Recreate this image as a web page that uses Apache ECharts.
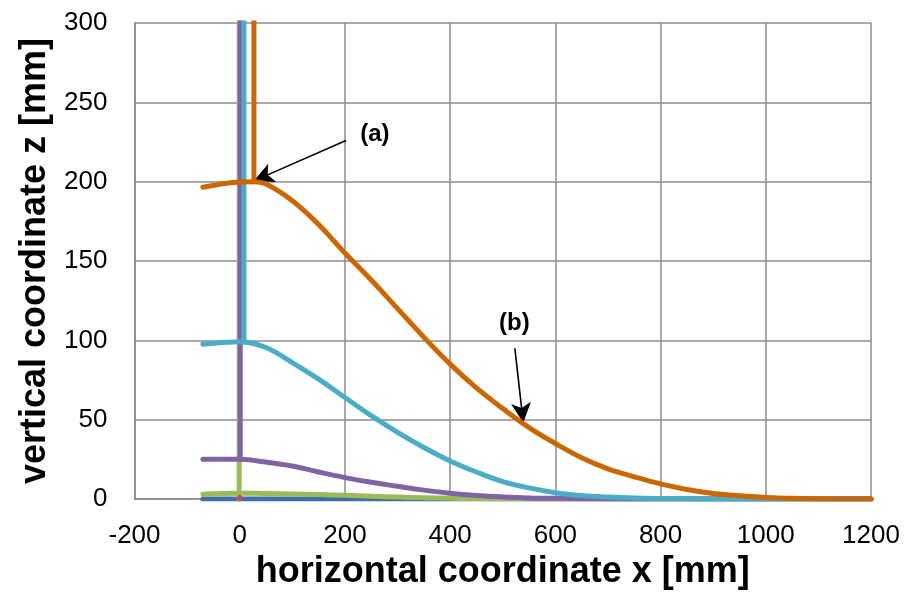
<!DOCTYPE html>
<html>
<head>
<meta charset="utf-8">
<script src="https://cdn.jsdelivr.net/npm/echarts@6/dist/echarts.min.js"></script>
<style>html,body{margin:0;padding:0;background:#fff}#c{width:907px;height:595px}</style>
</head>
<body>
<div id="c"></div>
<script>
// ---- data ----
const xTickValues = [-200, 0, 200, 400, 600, 800, 1000, 1200];
const zTickValues = [0, 50, 100, 150, 200, 250, 300];

const blueX = [-70, 0, 400, 800, 1200];
const blueZ = [0, 0, 0, 0, 0];

const redX = [0, 0];
const redZ = [0, 1];

const greenX = [-70, 0, 50, 100, 150, 200, 250, 300, 350, 400, 450, 500, 600, 700, 800, 1000, 1200];
const greenZ = [3, 3.6, 3.5, 3.2, 2.8, 2.3, 1.7, 1.2, 0.8, 0.5, 0.3, 0.15, 0, 0, 0, 0, 0];
const greenRiseX = [-1, -1];
const greenRiseZ = [0, 330];

const purpleX = [-70, -50, -25, 0, 50, 100, 150, 200, 250, 300, 350, 400, 450, 500, 550, 600, 700, 800, 1000, 1200];
const purpleZ = [25, 25, 25.1, 25, 23.3, 20.8, 17, 13.5, 10.5, 8, 5.6, 3.6, 2.2, 1.3, 0.7, 0.4, 0.1, 0, 0, 0];
const purpleRiseX = [1, 1];
const purpleRiseZ = [25, 330];

const cyanX = [-70, -50, -25, 0, 8, 50, 100, 150, 200, 250, 300, 350, 400, 450, 500, 550, 600, 650, 700, 750, 800, 850, 900, 1000, 1100, 1200];
const cyanZ = [97.6, 98.2, 98.8, 99.1, 99, 95.5, 86, 75.5, 64, 52.5, 42, 32.5, 24, 17, 11, 7, 4, 2.2, 1.2, 0.6, 0.3, 0.1, 0, 0, 0, 0];
const cyanRiseX = [8, 8];
const cyanRiseZ = [99, 330];

const orangeX = [-70, -50, -25, 0, 27, 50, 100, 150, 200, 250, 300, 350, 400, 450, 500, 550, 600, 650, 700, 750, 800, 850, 900, 950, 1000, 1050, 1100, 1150, 1200];
const orangeZ = [196.5, 197.6, 199, 199.8, 200, 198.5, 188, 173, 155, 138, 120, 102, 85, 70, 57, 45, 35, 26, 19, 14, 9.5, 6, 3.5, 2, 1, 0.4, 0.1, 0, 0];
const orangeRiseX = [27, 27];
const orangeRiseZ = [200, 330];

const annotationTexts = ['(a)', '(b)'];
const annotationAt = [[257, 230], [522, 111]];
const arrowFrom = [[202, 226], [523, 95]];
const arrowTo = [[27, 200.5], [539, 48]];

// ---- build ----
const zip = (xs, zs) => xs.map((x, i) => [x, zs[i]]);
const font = '"Liberation Sans", Arial, sans-serif';

function lineSeries(name, xs, zs, color, smooth, z) {
  return {
    name, type: 'line', data: zip(xs, zs), showSymbol: false, symbol: 'none',
    smooth: smooth ? 0.4 : false,
    clip: true, z: z,
    lineStyle: { color, width: 5, cap: 'round', join: 'round' },
    itemStyle: { color }, emphasis: { disabled: true }
  };
}

const C = { blue: '#3F6EA8', red: '#C0504D', green: '#9BBB59', purple: '#8064A2', cyan: '#4BACC6', orange: '#CC6600' };

const series = [
  lineSeries('blue', blueX, blueZ, C.blue, false, 2),
  lineSeries('green', greenX, greenZ, C.green, true, 3),
  lineSeries('greenRise', greenRiseX, greenRiseZ, C.green, false, 3),
  lineSeries('red', redX, redZ, C.red, false, 4),
  lineSeries('purple', purpleX, purpleZ, C.purple, true, 5),
  lineSeries('purpleRise', purpleRiseX, purpleRiseZ, C.purple, false, 5),
  lineSeries('cyan', cyanX, cyanZ, C.cyan, true, 6),
  lineSeries('cyanRise', cyanRiseX, cyanRiseZ, C.cyan, false, 6),
  lineSeries('orange', orangeX, orangeZ, C.orange, true, 7),
  lineSeries('orangeRise', orangeRiseX, orangeRiseZ, C.orange, false, 7)
];

// annotations (arrows + labels) attached to a hidden helper series
series.push({
  name: 'annot', type: 'line', data: [], z: 10, silent: true,
  markLine: {
    silent: true, symbol: ['none', 'arrow'], symbolSize: [15, 20], animation: false,
    lineStyle: { color: '#000', width: 1.6, type: 'solid' },
    label: { show: false },
    data: arrowFrom.map((f, i) => [{ coord: f }, { coord: arrowTo[i] }])
  },
  markPoint: {
    silent: true, symbol: 'circle', symbolSize: 1, animation: false,
    itemStyle: { color: 'rgba(0,0,0,0)' },
    label: { show: true, position: 'inside', color: '#000', fontSize: 24, fontWeight: 'bold', fontFamily: font },
    data: annotationAt.map((p, i) => ({ coord: p, value: annotationTexts[i], label: { formatter: annotationTexts[i] } }))
  }
});

const gridColor = '#8C8C8C';
const option = {
  animation: false,
  backgroundColor: '#fff',
  grid: { left: 134.5, right: 36, top: 23, bottom: 96, containLabel: false },
  xAxis: {
    type: 'value', min: xTickValues[0], max: xTickValues[xTickValues.length - 1], interval: 200,
    name: 'horizontal coordinate x [mm]', nameLocation: 'middle', nameGap: 73,
    nameTextStyle: { fontSize: 36, fontWeight: 'bold', color: '#000', fontFamily: font, verticalAlign: 'middle' },
    axisLine: { show: true, onZero: false, lineStyle: { color: gridColor, width: 1.5 } },
    axisTick: { show: false },
    axisLabel: { fontSize: 26, color: '#000', fontFamily: font, margin: 24, formatter: v => String(v) },
    splitLine: { show: true, lineStyle: { color: gridColor, width: 1.5 } }
  },
  yAxis: {
    type: 'value', min: zTickValues[0], max: zTickValues[zTickValues.length - 1], interval: 50,
    name: 'vertical coordinate z [mm]', nameLocation: 'middle', nameGap: 98, nameRotate: 90,
    nameTextStyle: { fontSize: 36, fontWeight: 'bold', color: '#000', fontFamily: font, verticalAlign: 'middle' },
    axisLine: { show: true, onZero: false, lineStyle: { color: gridColor, width: 1.5 } },
    axisTick: { show: false },
    axisLabel: { fontSize: 26, color: '#000', fontFamily: font, margin: 27, formatter: v => String(v) },
    splitLine: { show: true, lineStyle: { color: gridColor, width: 1.5 } }
  },
  series
};

const chart = echarts.init(document.getElementById('c'), null, { renderer: 'canvas' });
chart.setOption(option);
</script>
</body>
</html>
